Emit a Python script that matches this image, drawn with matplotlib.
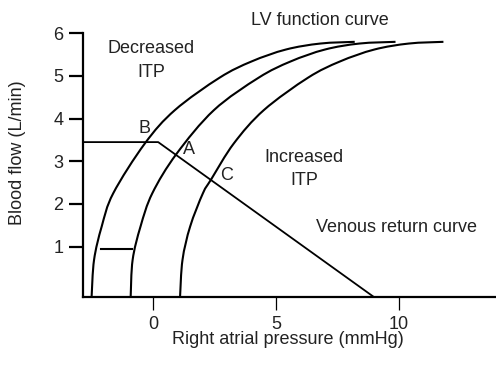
import matplotlib
matplotlib.use("Agg")
import numpy as np
import matplotlib.pyplot as plt
from matplotlib.path import Path
from matplotlib.patches import PathPatch

plt.rcParams['font.family'] = ['Liberation Sans', 'DejaVu Sans']

# ------------------------------
# data
# ------------------------------
y_floor = -0.18  # where the x axis line sits

# LV function curve, decreased ITP (left)
lv_dec_x = [-2.51, -2.41, -2.10, -1.63, -0.34, 0.88, 2.70, 4.00, 5.40, 6.80, 8.20]
lv_dec_y = [-0.18, 0.69, 1.47, 2.25, 3.42, 4.20, 4.96, 5.34, 5.62, 5.76, 5.80]

# LV function curve, normal (middle)
lv_norm_x = [-0.92, -0.84, -0.52, -0.04, 0.94, 2.47, 4.29, 5.59, 6.99, 8.39, 9.86]
lv_norm_y = [-0.18, 0.69, 1.47, 2.25, 3.17, 4.20, 4.96, 5.34, 5.62, 5.76, 5.80]

# LV function curve, increased ITP (right)
lv_inc_x = [1.09, 1.19, 1.50, 2.02, 2.36, 3.28, 4.50, 6.30, 7.60, 9.00, 10.40, 11.81]
lv_inc_y = [-0.18, 0.69, 1.47, 2.25, 2.58, 3.42, 4.20, 4.96, 5.34, 5.62, 5.76, 5.80]

# venous return curve
vr_x = [-2.86, 0.20, 8.98]
vr_y = [3.45, 3.45, -0.18]

# small shift marker
shift_x = [-2.12, -0.85]
shift_y = [0.95, 0.95]

xticks = [0, 5, 10]
yticks = [1, 2, 3, 4, 5, 6]


# smooth pen stroke through the read points (Catmull-Rom as cubic beziers)
def smooth_path(xs, ys):
    p = np.column_stack([xs, ys])
    p = np.vstack([p[0], p, p[-1]])
    verts = [p[1]]
    codes = [Path.MOVETO]
    for i in range(1, len(p) - 2):
        c1 = p[i] + (p[i + 1] - p[i - 1]) / 6
        c2 = p[i + 1] - (p[i + 2] - p[i]) / 6
        verts += [c1, c2, p[i + 1]]
        codes += [Path.CURVE4] * 3
    return Path(verts, codes)


# ------------------------------
# figure
# ------------------------------
fig = plt.figure(figsize=(4.96, 3.65), dpi=100)
ax = fig.add_axes([83 / 496, 68 / 365, 1 - 83 / 496, (297 - 33.3) / 365])

for xs, ys in [(lv_dec_x, lv_dec_y), (lv_norm_x, lv_norm_y), (lv_inc_x, lv_inc_y)]:
    ax.add_patch(PathPatch(smooth_path(xs, ys), fill=False, edgecolor='black',
                           lw=1.5, capstyle='butt'))
ax.plot(vr_x, vr_y, color='black', lw=1.3)
ax.plot(shift_x, shift_y, color='black', lw=1.5)

ax.set_xlim(-2.86, 13.95)
ax.set_ylim(y_floor, 6)

for s in ['top', 'right']:
    ax.spines[s].set_visible(False)
for s in ['left', 'bottom']:
    ax.spines[s].set_linewidth(1.6)

ax.set_xticks(xticks)
ax.set_yticks(yticks)
ax.tick_params(axis='y', length=10, width=1.6, pad=4, labelsize=13, colors='black', labelcolor='#222222')
ax.tick_params(axis='x', length=9.5, width=0.9, pad=4, labelsize=13, colors='black', labelcolor='#222222')

tc = '#222222'
fs = 13
fig.text(18 / 496, 1 - 153 / 365, 'Blood flow (L/min)', rotation=90, ha='center', va='center',
         fontsize=fs, color=tc)
fig.text(288 / 496, 1 - 340 / 365, 'Right atrial pressure (mmHg)', ha='center', va='center',
         fontsize=fs, color=tc)

ax.text(6.78, 6.31, 'LV function curve', ha='center', va='center', fontsize=fs, color=tc)
ax.text(-0.09, 5.64, 'Decreased', ha='center', va='center', fontsize=fs, color=tc)
ax.text(-0.09, 5.07, 'ITP', ha='center', va='center', fontsize=fs, color=tc)
ax.text(6.13, 3.10, 'Increased', ha='center', va='center', fontsize=fs, color=tc)
ax.text(6.13, 2.56, 'ITP', ha='center', va='center', fontsize=fs, color=tc)
ax.text(9.92, 1.44, 'Venous return curve', ha='center', va='center', fontsize=fs, color=tc)
ax.text(-0.34, 3.78, 'B', ha='center', va='center', fontsize=fs, color=tc)
ax.text(1.45, 3.27, 'A', ha='center', va='center', fontsize=fs, color=tc)
ax.text(3.0, 2.67, 'C', ha='center', va='center', fontsize=fs, color=tc)

fig.savefig('out.png', dpi=100)
